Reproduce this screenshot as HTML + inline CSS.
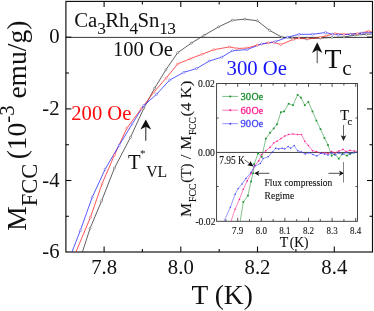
<!DOCTYPE html>
<html><head><meta charset="utf-8"><title>Ca3Rh4Sn13 MFCC vs T</title>
<style>html,body{margin:0;padding:0;background:#fff;}body{width:374px;height:311px;overflow:hidden;font-family:"Liberation Serif",serif;}svg{display:block;will-change:transform;}text{font-family:"Liberation Serif",serif;}</style>
</head><body>
<svg width="374" height="311" viewBox="0 0 374 311">
<rect x="0" y="0" width="374" height="311" fill="#ffffff"/>
<g stroke="#0c0c0c" stroke-width="1.15" fill="none">
<rect x="65.9" y="1.4" width="306.6" height="250.6"/>
</g>
<line x1="65.9" y1="37.4" x2="372.5" y2="37.4" stroke="#222" stroke-width="0.9"/>
<g stroke="#0c0c0c" stroke-width="1.1">
<line x1="104.1" y1="252.0" x2="104.1" y2="246.5"/>
<line x1="104.1" y1="1.4" x2="104.1" y2="6.9"/>
<line x1="142.4" y1="252.0" x2="142.4" y2="249.0"/>
<line x1="142.4" y1="1.4" x2="142.4" y2="4.4"/>
<line x1="180.8" y1="252.0" x2="180.8" y2="246.5"/>
<line x1="180.8" y1="1.4" x2="180.8" y2="6.9"/>
<line x1="219.2" y1="252.0" x2="219.2" y2="249.0"/>
<line x1="219.2" y1="1.4" x2="219.2" y2="4.4"/>
<line x1="257.5" y1="252.0" x2="257.5" y2="246.5"/>
<line x1="257.5" y1="1.4" x2="257.5" y2="6.9"/>
<line x1="295.9" y1="252.0" x2="295.9" y2="249.0"/>
<line x1="295.9" y1="1.4" x2="295.9" y2="4.4"/>
<line x1="334.3" y1="252.0" x2="334.3" y2="246.5"/>
<line x1="334.3" y1="1.4" x2="334.3" y2="6.9"/>
<line x1="65.9" y1="216.3" x2="68.9" y2="216.3"/>
<line x1="372.5" y1="216.3" x2="369.5" y2="216.3"/>
<line x1="65.9" y1="180.5" x2="71.4" y2="180.5"/>
<line x1="372.5" y1="180.5" x2="367.0" y2="180.5"/>
<line x1="65.9" y1="144.7" x2="68.9" y2="144.7"/>
<line x1="372.5" y1="144.7" x2="369.5" y2="144.7"/>
<line x1="65.9" y1="108.9" x2="71.4" y2="108.9"/>
<line x1="372.5" y1="108.9" x2="367.0" y2="108.9"/>
<line x1="65.9" y1="73.0" x2="68.9" y2="73.0"/>
<line x1="372.5" y1="73.0" x2="369.5" y2="73.0"/>
<line x1="65.9" y1="37.2" x2="71.4" y2="37.2"/>
<line x1="372.5" y1="37.2" x2="367.0" y2="37.2"/>
</g>
<g clip-path="url(#mc)">
<clipPath id="mc"><rect x="65.9" y="1.4" width="306.6" height="250.6"/></clipPath>
<polyline points="82.4,252.1 90.1,228.3 101.6,200.9 114.5,168.0 130.5,137.3 143.8,108.3 154.6,88.2 165.9,69.8 177.7,52.7 191.2,43.2 204.1,35.3 218.7,26.8 232.4,20.3 244.8,19.2 257.2,20.7 269.6,30.4 282.0,37.2 292.2,38.1 306.8,38.8 320.3,38.1 332.0,37.5 344.0,37.0 355.0,35.2 366.4,34.3 372.0,34.0" fill="none" stroke="#3a3a3a" stroke-width="0.8" stroke-linejoin="round" opacity="1"/>
<polyline points="75.9,252.1 90.5,217.2 102.0,183.9 114.5,155.0 126.9,128.1 141.0,109.0 153.9,92.1 166.2,78.0 177.7,63.9 190.1,58.8 201.8,54.3 213.8,49.7 229.5,46.9 236.9,48.5 247.0,48.0 257.2,45.1 268.5,42.8 274.0,42.4 280.8,44.6 293.2,39.4 299.0,38.1 308.0,38.8 320.3,37.4 326.0,35.8 335.0,33.6 343.9,34.3 357.4,33.6 368.6,31.3 372.0,32.0" fill="none" stroke="#ff2a2a" stroke-width="0.8" stroke-linejoin="round" opacity="1"/>
<polyline points="71.9,252.1 80.3,230.6 92.2,197.3 105.1,169.3 119.1,145.3 132.1,124.1 143.8,105.4 156.6,94.3 169.7,80.0 183.9,72.3 196.6,68.5 209.3,61.0 221.7,57.2 232.4,50.7 247.0,49.6 261.7,43.9 275.2,41.7 287.6,37.2 299.0,34.3 312.5,34.3 325.5,32.5 332.7,34.3 338.3,34.7 350.6,34.3 361.9,33.1 372.0,32.5" fill="none" stroke="#3030ff" stroke-width="0.8" stroke-linejoin="round" opacity="1"/>
<circle cx="90.1" cy="228.3" r="1.05" fill="#fff" stroke="#3a3a3a" stroke-width="0.45"/>
<circle cx="101.6" cy="200.9" r="1.05" fill="#fff" stroke="#3a3a3a" stroke-width="0.45"/>
<circle cx="114.5" cy="168.0" r="1.05" fill="#fff" stroke="#3a3a3a" stroke-width="0.45"/>
<circle cx="130.5" cy="137.3" r="1.05" fill="#fff" stroke="#3a3a3a" stroke-width="0.45"/>
<circle cx="143.8" cy="108.3" r="1.05" fill="#fff" stroke="#3a3a3a" stroke-width="0.45"/>
<circle cx="154.6" cy="88.2" r="1.05" fill="#fff" stroke="#3a3a3a" stroke-width="0.45"/>
<circle cx="165.9" cy="69.8" r="1.05" fill="#fff" stroke="#3a3a3a" stroke-width="0.45"/>
<circle cx="177.7" cy="52.7" r="1.05" fill="#fff" stroke="#3a3a3a" stroke-width="0.45"/>
<circle cx="191.2" cy="43.2" r="1.05" fill="#fff" stroke="#3a3a3a" stroke-width="0.45"/>
<circle cx="204.1" cy="35.3" r="1.05" fill="#fff" stroke="#3a3a3a" stroke-width="0.45"/>
<circle cx="218.7" cy="26.8" r="1.05" fill="#fff" stroke="#3a3a3a" stroke-width="0.45"/>
<circle cx="232.4" cy="20.3" r="1.05" fill="#fff" stroke="#3a3a3a" stroke-width="0.45"/>
<circle cx="244.8" cy="19.2" r="1.05" fill="#fff" stroke="#3a3a3a" stroke-width="0.45"/>
<circle cx="257.2" cy="20.7" r="1.05" fill="#fff" stroke="#3a3a3a" stroke-width="0.45"/>
<circle cx="269.6" cy="30.4" r="1.05" fill="#fff" stroke="#3a3a3a" stroke-width="0.45"/>
<circle cx="282.0" cy="37.2" r="1.05" fill="#fff" stroke="#3a3a3a" stroke-width="0.45"/>
<circle cx="292.2" cy="38.1" r="1.05" fill="#fff" stroke="#3a3a3a" stroke-width="0.45"/>
<circle cx="306.8" cy="38.8" r="1.05" fill="#fff" stroke="#3a3a3a" stroke-width="0.45"/>
<circle cx="320.3" cy="38.1" r="1.05" fill="#fff" stroke="#3a3a3a" stroke-width="0.45"/>
<circle cx="332.0" cy="37.5" r="1.05" fill="#fff" stroke="#3a3a3a" stroke-width="0.45"/>
<circle cx="344.0" cy="37.0" r="1.05" fill="#fff" stroke="#3a3a3a" stroke-width="0.45"/>
<circle cx="355.0" cy="35.2" r="1.05" fill="#fff" stroke="#3a3a3a" stroke-width="0.45"/>
<circle cx="366.4" cy="34.3" r="1.05" fill="#fff" stroke="#3a3a3a" stroke-width="0.45"/>
<circle cx="90.5" cy="217.2" r="1.05" fill="#fff" stroke="#ff2a2a" stroke-width="0.45"/>
<circle cx="102.0" cy="183.9" r="1.05" fill="#fff" stroke="#ff2a2a" stroke-width="0.45"/>
<circle cx="114.5" cy="155.0" r="1.05" fill="#fff" stroke="#ff2a2a" stroke-width="0.45"/>
<circle cx="126.9" cy="128.1" r="1.05" fill="#fff" stroke="#ff2a2a" stroke-width="0.45"/>
<circle cx="141.0" cy="109.0" r="1.05" fill="#fff" stroke="#ff2a2a" stroke-width="0.45"/>
<circle cx="153.9" cy="92.1" r="1.05" fill="#fff" stroke="#ff2a2a" stroke-width="0.45"/>
<circle cx="166.2" cy="78.0" r="1.05" fill="#fff" stroke="#ff2a2a" stroke-width="0.45"/>
<circle cx="177.7" cy="63.9" r="1.05" fill="#fff" stroke="#ff2a2a" stroke-width="0.45"/>
<circle cx="190.1" cy="58.8" r="1.05" fill="#fff" stroke="#ff2a2a" stroke-width="0.45"/>
<circle cx="201.8" cy="54.3" r="1.05" fill="#fff" stroke="#ff2a2a" stroke-width="0.45"/>
<circle cx="213.8" cy="49.7" r="1.05" fill="#fff" stroke="#ff2a2a" stroke-width="0.45"/>
<circle cx="229.5" cy="46.9" r="1.05" fill="#fff" stroke="#ff2a2a" stroke-width="0.45"/>
<circle cx="236.9" cy="48.5" r="1.05" fill="#fff" stroke="#ff2a2a" stroke-width="0.45"/>
<circle cx="247.0" cy="48.0" r="1.05" fill="#fff" stroke="#ff2a2a" stroke-width="0.45"/>
<circle cx="257.2" cy="45.1" r="1.05" fill="#fff" stroke="#ff2a2a" stroke-width="0.45"/>
<circle cx="268.5" cy="42.8" r="1.05" fill="#fff" stroke="#ff2a2a" stroke-width="0.45"/>
<circle cx="274.0" cy="42.4" r="1.05" fill="#fff" stroke="#ff2a2a" stroke-width="0.45"/>
<circle cx="280.8" cy="44.6" r="1.05" fill="#fff" stroke="#ff2a2a" stroke-width="0.45"/>
<circle cx="293.2" cy="39.4" r="1.05" fill="#fff" stroke="#ff2a2a" stroke-width="0.45"/>
<circle cx="299.0" cy="38.1" r="1.05" fill="#fff" stroke="#ff2a2a" stroke-width="0.45"/>
<circle cx="308.0" cy="38.8" r="1.05" fill="#fff" stroke="#ff2a2a" stroke-width="0.45"/>
<circle cx="320.3" cy="37.4" r="1.05" fill="#fff" stroke="#ff2a2a" stroke-width="0.45"/>
<circle cx="326.0" cy="35.8" r="1.05" fill="#fff" stroke="#ff2a2a" stroke-width="0.45"/>
<circle cx="335.0" cy="33.6" r="1.05" fill="#fff" stroke="#ff2a2a" stroke-width="0.45"/>
<circle cx="343.9" cy="34.3" r="1.05" fill="#fff" stroke="#ff2a2a" stroke-width="0.45"/>
<circle cx="357.4" cy="33.6" r="1.05" fill="#fff" stroke="#ff2a2a" stroke-width="0.45"/>
<circle cx="368.6" cy="31.3" r="1.05" fill="#fff" stroke="#ff2a2a" stroke-width="0.45"/>
<circle cx="80.3" cy="230.6" r="1.05" fill="#fff" stroke="#3030ff" stroke-width="0.45"/>
<circle cx="92.2" cy="197.3" r="1.05" fill="#fff" stroke="#3030ff" stroke-width="0.45"/>
<circle cx="105.1" cy="169.3" r="1.05" fill="#fff" stroke="#3030ff" stroke-width="0.45"/>
<circle cx="119.1" cy="145.3" r="1.05" fill="#fff" stroke="#3030ff" stroke-width="0.45"/>
<circle cx="132.1" cy="124.1" r="1.05" fill="#fff" stroke="#3030ff" stroke-width="0.45"/>
<circle cx="143.8" cy="105.4" r="1.05" fill="#fff" stroke="#3030ff" stroke-width="0.45"/>
<circle cx="156.6" cy="94.3" r="1.05" fill="#fff" stroke="#3030ff" stroke-width="0.45"/>
<circle cx="169.7" cy="80.0" r="1.05" fill="#fff" stroke="#3030ff" stroke-width="0.45"/>
<circle cx="183.9" cy="72.3" r="1.05" fill="#fff" stroke="#3030ff" stroke-width="0.45"/>
<circle cx="196.6" cy="68.5" r="1.05" fill="#fff" stroke="#3030ff" stroke-width="0.45"/>
<circle cx="209.3" cy="61.0" r="1.05" fill="#fff" stroke="#3030ff" stroke-width="0.45"/>
<circle cx="221.7" cy="57.2" r="1.05" fill="#fff" stroke="#3030ff" stroke-width="0.45"/>
<circle cx="232.4" cy="50.7" r="1.05" fill="#fff" stroke="#3030ff" stroke-width="0.45"/>
<circle cx="247.0" cy="49.6" r="1.05" fill="#fff" stroke="#3030ff" stroke-width="0.45"/>
<circle cx="261.7" cy="43.9" r="1.05" fill="#fff" stroke="#3030ff" stroke-width="0.45"/>
<circle cx="275.2" cy="41.7" r="1.05" fill="#fff" stroke="#3030ff" stroke-width="0.45"/>
<circle cx="287.6" cy="37.2" r="1.05" fill="#fff" stroke="#3030ff" stroke-width="0.45"/>
<circle cx="299.0" cy="34.3" r="1.05" fill="#fff" stroke="#3030ff" stroke-width="0.45"/>
<circle cx="312.5" cy="34.3" r="1.05" fill="#fff" stroke="#3030ff" stroke-width="0.45"/>
<circle cx="325.5" cy="32.5" r="1.05" fill="#fff" stroke="#3030ff" stroke-width="0.45"/>
<circle cx="332.7" cy="34.3" r="1.05" fill="#fff" stroke="#3030ff" stroke-width="0.45"/>
<circle cx="338.3" cy="34.7" r="1.05" fill="#fff" stroke="#3030ff" stroke-width="0.45"/>
<circle cx="350.6" cy="34.3" r="1.05" fill="#fff" stroke="#3030ff" stroke-width="0.45"/>
<circle cx="361.9" cy="33.1" r="1.05" fill="#fff" stroke="#3030ff" stroke-width="0.45"/>
</g>
<rect x="216.6" y="83.5" width="140.9" height="137.8" fill="#fff" stroke="#333" stroke-width="0.9"/>
<line x1="216.6" y1="152.45" x2="357.5" y2="152.45" stroke="#222" stroke-width="0.85"/>
<g stroke="#262626" stroke-width="0.8">
<line x1="225.9" y1="221.3" x2="225.9" y2="219.20000000000002"/>
<line x1="225.9" y1="83.5" x2="225.9" y2="85.6"/>
<line x1="237.7" y1="221.3" x2="237.7" y2="217.9"/>
<line x1="237.7" y1="83.5" x2="237.7" y2="86.9"/>
<line x1="249.5" y1="221.3" x2="249.5" y2="219.20000000000002"/>
<line x1="249.5" y1="83.5" x2="249.5" y2="85.6"/>
<line x1="261.3" y1="221.3" x2="261.3" y2="217.9"/>
<line x1="261.3" y1="83.5" x2="261.3" y2="86.9"/>
<line x1="273.1" y1="221.3" x2="273.1" y2="219.20000000000002"/>
<line x1="273.1" y1="83.5" x2="273.1" y2="85.6"/>
<line x1="284.9" y1="221.3" x2="284.9" y2="217.9"/>
<line x1="284.9" y1="83.5" x2="284.9" y2="86.9"/>
<line x1="296.7" y1="221.3" x2="296.7" y2="219.20000000000002"/>
<line x1="296.7" y1="83.5" x2="296.7" y2="85.6"/>
<line x1="308.5" y1="221.3" x2="308.5" y2="217.9"/>
<line x1="308.5" y1="83.5" x2="308.5" y2="86.9"/>
<line x1="320.3" y1="221.3" x2="320.3" y2="219.20000000000002"/>
<line x1="320.3" y1="83.5" x2="320.3" y2="85.6"/>
<line x1="332.1" y1="221.3" x2="332.1" y2="217.9"/>
<line x1="332.1" y1="83.5" x2="332.1" y2="86.9"/>
<line x1="343.9" y1="221.3" x2="343.9" y2="219.20000000000002"/>
<line x1="343.9" y1="83.5" x2="343.9" y2="85.6"/>
<line x1="355.7" y1="221.3" x2="355.7" y2="217.9"/>
<line x1="355.7" y1="83.5" x2="355.7" y2="86.9"/>
<line x1="216.6" y1="118.0" x2="218.6" y2="118.0"/>
<line x1="357.5" y1="118.0" x2="355.5" y2="118.0"/>
<line x1="216.6" y1="186.5" x2="218.6" y2="186.5"/>
<line x1="357.5" y1="186.5" x2="355.5" y2="186.5"/>
</g>
<clipPath id="ic"><rect x="216.6" y="83.5" width="140.9" height="137.8"/></clipPath>
<g clip-path="url(#ic)">
<polyline points="240.2,221.3 243.3,202.0 247.9,195.6 251.0,181.4 253.1,173.2 254.2,164.1 258.1,153.4 261.8,156.9 265.9,138.6 270.1,132.7 273.7,128.4 277.0,124.2 280.9,112.2 284.2,111.4 288.6,103.7 293.0,105.2 297.6,94.9 300.9,97.5 304.8,105.2 308.4,101.9 312.5,111.4 316.4,120.6 320.5,129.2 324.5,138.0 328.0,145.0 331.6,155.6 334.7,153.9 338.8,158.7 342.5,153.9 347.0,155.6 350.1,153.9 354.3,152.5 357.3,151.4" fill="none" stroke="#1c9030" stroke-width="0.55" stroke-linejoin="round" opacity="1"/>
<polyline points="231.0,221.3 235.1,209.2 239.4,199.4 243.3,189.2 247.2,180.9 251.0,173.7 254.9,165.5 258.7,160.9 261.6,154.6 265.9,150.7 270.1,147.4 273.7,143.0 277.0,141.2 280.9,138.6 284.7,136.1 288.6,134.5 293.0,134.0 297.6,134.5 301.4,134.5 304.8,141.2 308.4,145.6 312.5,150.7 316.4,151.5 320.7,153.3 324.6,152.8 328.0,153.5 331.6,151.5 334.7,153.0 338.8,151.0 342.9,149.4 346.0,151.5 350.1,150.4 354.3,151.0 357.3,151.4" fill="none" stroke="#ff1f8f" stroke-width="0.55" stroke-linejoin="round" opacity="1"/>
<polyline points="224.0,221.3 230.4,207.2 235.1,194.3 238.2,188.6 242.0,184.0 245.9,178.4 251.0,172.4 254.9,166.0 260.4,163.5 263.2,158.5 268.2,156.8 272.5,152.0 275.7,148.2 278.8,148.9 282.2,148.2 284.8,148.9 288.1,146.4 290.6,148.2 294.2,145.6 297.6,150.7 301.4,152.0 305.3,154.1 309.2,152.8 313.0,154.6 316.9,155.9 320.7,153.3 324.6,154.0 328.0,155.0 331.6,153.0 335.0,155.0 338.8,153.0 342.5,154.5 346.0,152.5 350.0,154.0 354.0,152.5 357.3,152.5" fill="none" stroke="#4444ff" stroke-width="0.55" stroke-linejoin="round" opacity="1"/>
<rect x="242.5" y="201.2" width="1.7" height="1.7" fill="#1c9030"/>
<rect x="247.1" y="194.8" width="1.7" height="1.7" fill="#1c9030"/>
<rect x="250.2" y="180.6" width="1.7" height="1.7" fill="#1c9030"/>
<rect x="252.2" y="172.3" width="1.7" height="1.7" fill="#1c9030"/>
<rect x="253.3" y="163.2" width="1.7" height="1.7" fill="#1c9030"/>
<rect x="257.2" y="152.6" width="1.7" height="1.7" fill="#1c9030"/>
<rect x="260.9" y="156.1" width="1.7" height="1.7" fill="#1c9030"/>
<rect x="265.0" y="137.8" width="1.7" height="1.7" fill="#1c9030"/>
<rect x="269.2" y="131.8" width="1.7" height="1.7" fill="#1c9030"/>
<rect x="272.8" y="127.6" width="1.7" height="1.7" fill="#1c9030"/>
<rect x="276.1" y="123.4" width="1.7" height="1.7" fill="#1c9030"/>
<rect x="280.0" y="111.4" width="1.7" height="1.7" fill="#1c9030"/>
<rect x="283.3" y="110.6" width="1.7" height="1.7" fill="#1c9030"/>
<rect x="287.8" y="102.9" width="1.7" height="1.7" fill="#1c9030"/>
<rect x="292.1" y="104.4" width="1.7" height="1.7" fill="#1c9030"/>
<rect x="296.8" y="94.1" width="1.7" height="1.7" fill="#1c9030"/>
<rect x="300.0" y="96.7" width="1.7" height="1.7" fill="#1c9030"/>
<rect x="303.9" y="104.4" width="1.7" height="1.7" fill="#1c9030"/>
<rect x="307.5" y="101.1" width="1.7" height="1.7" fill="#1c9030"/>
<rect x="311.6" y="110.6" width="1.7" height="1.7" fill="#1c9030"/>
<rect x="315.5" y="119.8" width="1.7" height="1.7" fill="#1c9030"/>
<rect x="319.6" y="128.3" width="1.7" height="1.7" fill="#1c9030"/>
<rect x="323.6" y="137.2" width="1.7" height="1.7" fill="#1c9030"/>
<rect x="327.1" y="144.2" width="1.7" height="1.7" fill="#1c9030"/>
<rect x="330.8" y="154.8" width="1.7" height="1.7" fill="#1c9030"/>
<rect x="333.8" y="153.1" width="1.7" height="1.7" fill="#1c9030"/>
<rect x="337.9" y="157.8" width="1.7" height="1.7" fill="#1c9030"/>
<rect x="341.6" y="153.1" width="1.7" height="1.7" fill="#1c9030"/>
<rect x="346.1" y="154.8" width="1.7" height="1.7" fill="#1c9030"/>
<rect x="349.2" y="153.1" width="1.7" height="1.7" fill="#1c9030"/>
<rect x="353.4" y="151.7" width="1.7" height="1.7" fill="#1c9030"/>
<circle cx="235.1" cy="209.2" r="0.8" fill="#ff1f8f"/>
<circle cx="239.4" cy="199.4" r="0.8" fill="#ff1f8f"/>
<circle cx="243.3" cy="189.2" r="0.8" fill="#ff1f8f"/>
<circle cx="247.2" cy="180.9" r="0.8" fill="#ff1f8f"/>
<circle cx="251.0" cy="173.7" r="0.8" fill="#ff1f8f"/>
<circle cx="254.9" cy="165.5" r="0.8" fill="#ff1f8f"/>
<circle cx="258.7" cy="160.9" r="0.8" fill="#ff1f8f"/>
<circle cx="261.6" cy="154.6" r="0.8" fill="#ff1f8f"/>
<circle cx="265.9" cy="150.7" r="0.8" fill="#ff1f8f"/>
<circle cx="270.1" cy="147.4" r="0.8" fill="#ff1f8f"/>
<circle cx="273.7" cy="143.0" r="0.8" fill="#ff1f8f"/>
<circle cx="277.0" cy="141.2" r="0.8" fill="#ff1f8f"/>
<circle cx="280.9" cy="138.6" r="0.8" fill="#ff1f8f"/>
<circle cx="284.7" cy="136.1" r="0.8" fill="#ff1f8f"/>
<circle cx="288.6" cy="134.5" r="0.8" fill="#ff1f8f"/>
<circle cx="293.0" cy="134.0" r="0.8" fill="#ff1f8f"/>
<circle cx="297.6" cy="134.5" r="0.8" fill="#ff1f8f"/>
<circle cx="301.4" cy="134.5" r="0.8" fill="#ff1f8f"/>
<circle cx="304.8" cy="141.2" r="0.8" fill="#ff1f8f"/>
<circle cx="308.4" cy="145.6" r="0.8" fill="#ff1f8f"/>
<circle cx="312.5" cy="150.7" r="0.8" fill="#ff1f8f"/>
<circle cx="316.4" cy="151.5" r="0.8" fill="#ff1f8f"/>
<circle cx="320.7" cy="153.3" r="0.8" fill="#ff1f8f"/>
<circle cx="324.6" cy="152.8" r="0.8" fill="#ff1f8f"/>
<circle cx="328.0" cy="153.5" r="0.8" fill="#ff1f8f"/>
<circle cx="331.6" cy="151.5" r="0.8" fill="#ff1f8f"/>
<circle cx="334.7" cy="153.0" r="0.8" fill="#ff1f8f"/>
<circle cx="338.8" cy="151.0" r="0.8" fill="#ff1f8f"/>
<circle cx="342.9" cy="149.4" r="0.8" fill="#ff1f8f"/>
<circle cx="346.0" cy="151.5" r="0.8" fill="#ff1f8f"/>
<circle cx="350.1" cy="150.4" r="0.8" fill="#ff1f8f"/>
<circle cx="354.3" cy="151.0" r="0.8" fill="#ff1f8f"/>
<circle cx="230.4" cy="207.2" r="0.75" fill="#4444ff"/>
<circle cx="235.1" cy="194.3" r="0.75" fill="#4444ff"/>
<circle cx="238.2" cy="188.6" r="0.75" fill="#4444ff"/>
<circle cx="242.0" cy="184.0" r="0.75" fill="#4444ff"/>
<circle cx="245.9" cy="178.4" r="0.75" fill="#4444ff"/>
<circle cx="251.0" cy="172.4" r="0.75" fill="#4444ff"/>
<circle cx="254.9" cy="166.0" r="0.75" fill="#4444ff"/>
<circle cx="260.4" cy="163.5" r="0.75" fill="#4444ff"/>
<circle cx="263.2" cy="158.5" r="0.75" fill="#4444ff"/>
<circle cx="268.2" cy="156.8" r="0.75" fill="#4444ff"/>
<circle cx="272.5" cy="152.0" r="0.75" fill="#4444ff"/>
<circle cx="275.7" cy="148.2" r="0.75" fill="#4444ff"/>
<circle cx="278.8" cy="148.9" r="0.75" fill="#4444ff"/>
<circle cx="282.2" cy="148.2" r="0.75" fill="#4444ff"/>
<circle cx="284.8" cy="148.9" r="0.75" fill="#4444ff"/>
<circle cx="288.1" cy="146.4" r="0.75" fill="#4444ff"/>
<circle cx="290.6" cy="148.2" r="0.75" fill="#4444ff"/>
<circle cx="294.2" cy="145.6" r="0.75" fill="#4444ff"/>
<circle cx="297.6" cy="150.7" r="0.75" fill="#4444ff"/>
<circle cx="301.4" cy="152.0" r="0.75" fill="#4444ff"/>
<circle cx="305.3" cy="154.1" r="0.75" fill="#4444ff"/>
<circle cx="309.2" cy="152.8" r="0.75" fill="#4444ff"/>
<circle cx="313.0" cy="154.6" r="0.75" fill="#4444ff"/>
<circle cx="316.9" cy="155.9" r="0.75" fill="#4444ff"/>
<circle cx="320.7" cy="153.3" r="0.75" fill="#4444ff"/>
<circle cx="324.6" cy="154.0" r="0.75" fill="#4444ff"/>
<circle cx="328.0" cy="155.0" r="0.75" fill="#4444ff"/>
<circle cx="331.6" cy="153.0" r="0.75" fill="#4444ff"/>
<circle cx="335.0" cy="155.0" r="0.75" fill="#4444ff"/>
<circle cx="338.8" cy="153.0" r="0.75" fill="#4444ff"/>
<circle cx="342.5" cy="154.5" r="0.75" fill="#4444ff"/>
<circle cx="346.0" cy="152.5" r="0.75" fill="#4444ff"/>
<circle cx="350.0" cy="154.0" r="0.75" fill="#4444ff"/>
<circle cx="354.0" cy="152.5" r="0.75" fill="#4444ff"/>
</g>
<line x1="222.3" y1="96.4" x2="238" y2="96.4" stroke="#1c9030" stroke-width="0.6"/>
<circle cx="230.3" cy="96.4" r="1" fill="#1c9030"/>
<text x="240.5" y="100.0" font-size="11.4" fill="#1c9030" stroke="#1c9030" stroke-width="0.3" textLength="10.6" lengthAdjust="spacingAndGlyphs">30</text>
<text x="251.6" y="100.0" font-size="11.4" fill="#1c9030" stroke="#1c9030" stroke-width="0.3" textLength="11.6" lengthAdjust="spacingAndGlyphs">Oe</text>
<line x1="222.3" y1="110.2" x2="238" y2="110.2" stroke="#ff1f8f" stroke-width="0.6"/>
<circle cx="230.3" cy="110.2" r="1" fill="#ff1f8f"/>
<text x="240.5" y="113.8" font-size="11.4" fill="#ff1f8f" stroke="#ff1f8f" stroke-width="0.3" textLength="10.6" lengthAdjust="spacingAndGlyphs">60</text>
<text x="251.6" y="113.8" font-size="11.4" fill="#ff1f8f" stroke="#ff1f8f" stroke-width="0.3" textLength="11.6" lengthAdjust="spacingAndGlyphs">Oe</text>
<line x1="222.3" y1="123.7" x2="238" y2="123.7" stroke="#4444ff" stroke-width="0.6"/>
<circle cx="230.3" cy="123.7" r="1" fill="#4444ff"/>
<text x="240.5" y="127.3" font-size="11.4" fill="#4444ff" stroke="#4444ff" stroke-width="0.3" textLength="10.6" lengthAdjust="spacingAndGlyphs">90</text>
<text x="251.6" y="127.3" font-size="11.4" fill="#4444ff" stroke="#4444ff" stroke-width="0.3" textLength="11.6" lengthAdjust="spacingAndGlyphs">Oe</text>
<text x="197.9" y="87.0" font-size="11.3" fill="#111" stroke="#111" stroke-width="0.12" text-anchor="start" textLength="16.9" lengthAdjust="spacingAndGlyphs">0.02</text>
<text x="197.9" y="156.0" font-size="11.3" fill="#111" stroke="#111" stroke-width="0.12" text-anchor="start" textLength="16.9" lengthAdjust="spacingAndGlyphs">0.00</text>
<text x="195.4" y="224.9" font-size="11.3" fill="#111" stroke="#111" stroke-width="0.12" text-anchor="start" textLength="20.1" lengthAdjust="spacingAndGlyphs">-0.02</text>
<text x="232.1" y="234.2" font-size="11.3" fill="#111" stroke="#111" stroke-width="0.12" text-anchor="start" textLength="11.2" lengthAdjust="spacingAndGlyphs">7.9</text>
<text x="255.7" y="234.2" font-size="11.3" fill="#111" stroke="#111" stroke-width="0.12" text-anchor="start" textLength="11.2" lengthAdjust="spacingAndGlyphs">8.0</text>
<text x="279.3" y="234.2" font-size="11.3" fill="#111" stroke="#111" stroke-width="0.12" text-anchor="start" textLength="11.2" lengthAdjust="spacingAndGlyphs">8.1</text>
<text x="302.9" y="234.2" font-size="11.3" fill="#111" stroke="#111" stroke-width="0.12" text-anchor="start" textLength="11.2" lengthAdjust="spacingAndGlyphs">8.2</text>
<text x="326.5" y="234.2" font-size="11.3" fill="#111" stroke="#111" stroke-width="0.12" text-anchor="start" textLength="11.2" lengthAdjust="spacingAndGlyphs">8.3</text>
<text x="350.1" y="234.2" font-size="11.3" fill="#111" stroke="#111" stroke-width="0.12" text-anchor="start" textLength="11.2" lengthAdjust="spacingAndGlyphs">8.4</text>
<text x="279.8" y="246.9" font-size="14.6" fill="#111" stroke="#111" stroke-width="0.12" text-anchor="start" textLength="8.5" lengthAdjust="spacingAndGlyphs">T</text>
<text x="289.8" y="246.9" font-size="14.6" fill="#111" stroke="#111" stroke-width="0.12" text-anchor="start" textLength="18.8" lengthAdjust="spacingAndGlyphs">(K)</text>
<text x="219.3" y="163.9" font-size="11.5" fill="#111" stroke="#111" stroke-width="0.12" text-anchor="start" textLength="25.6" lengthAdjust="spacingAndGlyphs">7.95 K</text>
<line x1="244.6" y1="159.8" x2="250.6" y2="164.4" stroke="#222" stroke-width="0.7"/>
<path d="M253.6,166.6 L247.2,165.2 L249.6,163.6 L250.4,160.9 Z" fill="#111"/>
<line x1="256" y1="173.3" x2="269.4" y2="173.3" stroke="#222" stroke-width="0.8"/>
<path d="M254.3,173.3 L259.4,170.6 L258.0,173.3 L259.4,176.0 Z" fill="#111"/>
<line x1="328.5" y1="173.3" x2="342" y2="173.3" stroke="#222" stroke-width="0.8"/>
<path d="M344.0,173.3 L338.9,170.6 L340.3,173.3 L338.9,176.0 Z" fill="#111"/>
<line x1="343.5" y1="162" x2="343.5" y2="182.6" stroke="#666" stroke-width="0.8"/>
<text x="264.6" y="185.9" font-size="10.9" fill="#111" stroke="#111" stroke-width="0.12" text-anchor="start" textLength="67.7" lengthAdjust="spacingAndGlyphs">Flux compression</text>
<text x="264.6" y="199.0" font-size="10.9" fill="#111" stroke="#111" stroke-width="0.12" text-anchor="start" textLength="29.5" lengthAdjust="spacingAndGlyphs">Regime</text>
<text x="340.2" y="119.6" font-size="14.8" fill="#111" stroke="#111" stroke-width="0.12" text-anchor="start" textLength="8.7" lengthAdjust="spacingAndGlyphs">T</text>
<text x="347.6" y="125.1" font-size="10.5" fill="#111" stroke="#111" stroke-width="0.12" text-anchor="start" textLength="4.6" lengthAdjust="spacingAndGlyphs">c</text>
<line x1="343.5" y1="125" x2="343.5" y2="139" stroke="#222" stroke-width="0.7"/>
<path d="M340.7,135.2 L343.5,141 L346.3,135.2 L343.5,136.6 Z" fill="#222"/>
<g transform="translate(191.4,216.9) rotate(-90)">
<text x="-0.2" y="0" font-size="15.5" fill="#111" stroke="#111" stroke-width="0.12" text-anchor="start" textLength="14.1" lengthAdjust="spacingAndGlyphs">M</text>
<text x="14.9" y="5.0" font-size="10.3" fill="#111" stroke="#111" stroke-width="0.12" text-anchor="start" textLength="18.4" lengthAdjust="spacingAndGlyphs">FCC</text>
<text x="34.2" y="0" font-size="15.5" fill="#111" stroke="#111" stroke-width="0.12" text-anchor="start" textLength="19.2" lengthAdjust="spacingAndGlyphs">(T)</text>
<text x="57.6" y="0" font-size="15.5" fill="#111" stroke="#111" stroke-width="0.12" text-anchor="start" textLength="4.6" lengthAdjust="spacingAndGlyphs">/</text>
<text x="67.1" y="0" font-size="15.5" fill="#111" stroke="#111" stroke-width="0.12" text-anchor="start" textLength="14.1" lengthAdjust="spacingAndGlyphs">M</text>
<text x="82.0" y="5.0" font-size="10.3" fill="#111" stroke="#111" stroke-width="0.12" text-anchor="start" textLength="17.6" lengthAdjust="spacingAndGlyphs">FCC</text>
<text x="100.4" y="0" font-size="15.5" fill="#111" stroke="#111" stroke-width="0.12" text-anchor="start" textLength="35.8" lengthAdjust="spacingAndGlyphs">(4 K)</text>
</g>
<text x="104.1" y="274.1" font-size="20.7" fill="#111" text-anchor="middle">7.8</text>
<text x="180.8" y="274.1" font-size="20.7" fill="#111" text-anchor="middle">8.0</text>
<text x="257.5" y="274.1" font-size="20.7" fill="#111" text-anchor="middle">8.2</text>
<text x="334.3" y="274.1" font-size="20.7" fill="#111" text-anchor="middle">8.4</text>
<text x="59.6" y="43.4" font-size="20.7" fill="#111" text-anchor="end">0</text>
<text x="59.6" y="115.1" font-size="20.7" fill="#111" text-anchor="end">-2</text>
<text x="59.6" y="186.7" font-size="20.7" fill="#111" text-anchor="end">-4</text>
<text x="59.6" y="258.4" font-size="20.7" fill="#111" text-anchor="end">-6</text>
<text x="191.5" y="303.9" font-size="27.5" fill="#111">T (K)</text>
<g transform="translate(25.8,230.8) rotate(-90)"><text x="0" y="0" font-size="27.5" fill="#111">M<tspan font-size="22.6" dy="10.8">FCC</tspan><tspan dy="-10.8" dx="-2.6"> (10</tspan><tspan font-size="20.7" dy="-11.8">-3</tspan><tspan dy="11.8"> emu/g)</tspan></text></g>
<text x="74.2" y="27.2" font-size="20.8" fill="#111">Ca<tspan font-size="17.4" dy="7.2" letter-spacing="-0.8">3</tspan><tspan dy="-7.2">Rh</tspan><tspan font-size="17.4" dy="7.2" letter-spacing="-0.8">4</tspan><tspan dy="-7.2">Sn</tspan><tspan font-size="17.4" dy="7.2" letter-spacing="-0.8">13</tspan></text>
<text x="113.0" y="55.9" font-size="20.5" fill="#111">100 Oe</text>
<text x="71.3" y="119.5" font-size="20.6" fill="#ff0a0a">200 Oe</text>
<text x="226.5" y="75.0" font-size="21.2" fill="#1616f6" textLength="60.6" lengthAdjust="spacingAndGlyphs">300 Oe</text>
<text x="128.0" y="169.0" font-size="20.7" fill="#111">T</text>
<text x="140.1" y="157.4" font-size="11" fill="#111">*</text>
<text x="146.2" y="176.7" font-size="15.8" fill="#111">VL</text>
<line x1="145.8" y1="124" x2="145.8" y2="140.8" stroke="#222" stroke-width="1"/>
<path d="M145.8,119.4 L151.2,129.4 L145.8,126.8 L140.4,129.4 Z" fill="#111"/>
<text x="324.5" y="68.0" font-size="27.8" fill="#111">T</text>
<text x="342.3" y="75.0" font-size="21" fill="#111">c</text>
<line x1="317.2" y1="47" x2="317.2" y2="63.2" stroke="#444" stroke-width="1"/>
<path d="M317.2,42.2 L322.4,53.0 L317.2,50.0 L312.0,53.0 Z" fill="#111"/>
</svg>
</body></html>
